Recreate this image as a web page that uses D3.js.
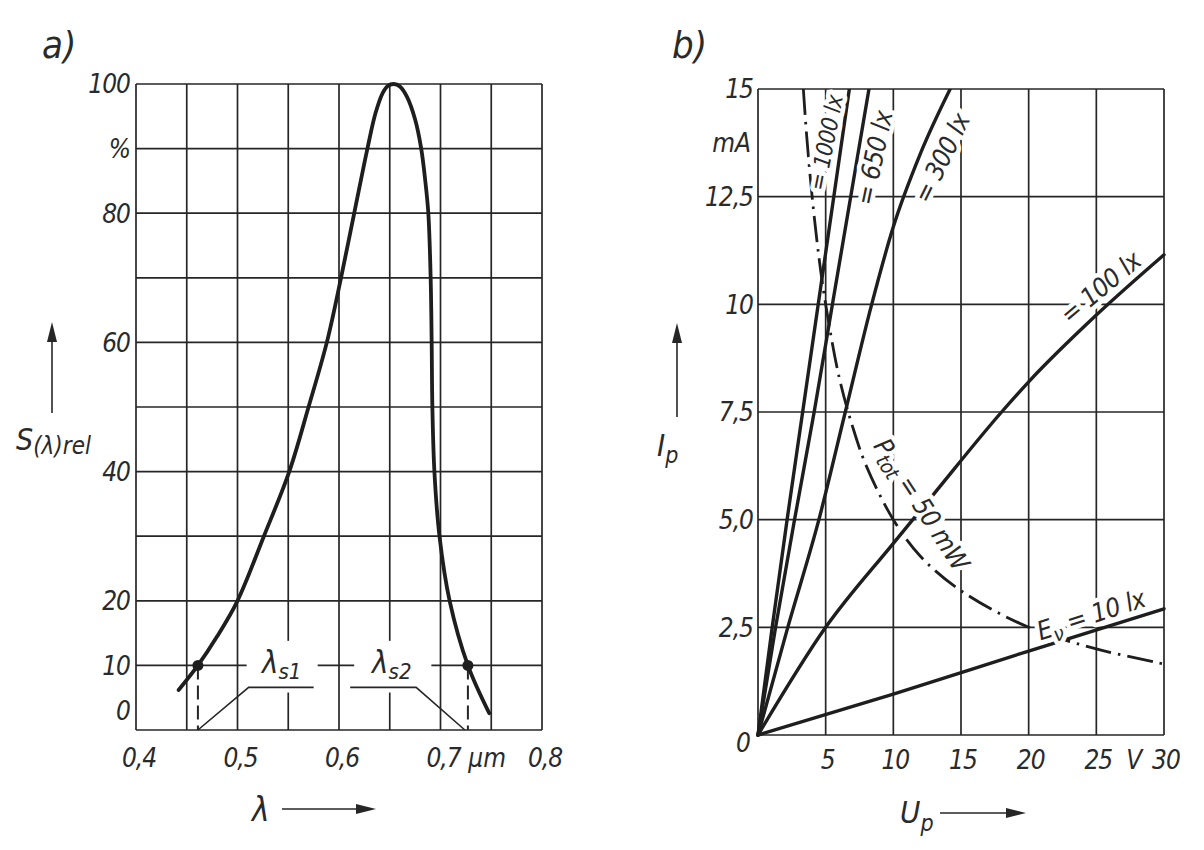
<!DOCTYPE html>
<html>
<head>
<meta charset="utf-8">
<script src="https://cdn.jsdelivr.net/npm/d3@7"></script>
<style>
  body { margin: 0; background: #ffffff; }
  svg { display: block; }
  text { font-family: "DejaVu Sans Condensed", "DejaVu Sans", sans-serif; font-style: oblique; fill: #2a2a2a; }
</style>
</head>
<body>
<svg id="chart" width="1204" height="850"></svg>
<script>
// ---------------- DATA: panel a) relative spectral sensitivity ----------------
const wavelength = [0.442, 0.461, 0.480, 0.500, 0.526, 0.551, 0.570, 0.588, 0.602, 0.615, 0.628, 0.636, 0.643, 0.648, 0.654,
                    0.660, 0.667, 0.675, 0.681, 0.685, 0.688, 0.6903, 0.6913, 0.692, 0.694, 0.699, 0.709, 0.727, 0.748];
const sRel       = [6.2, 10, 14.5, 20, 30, 40, 50, 60, 70, 80, 90, 95.5, 98.6, 99.7, 100,
                    99.6, 98, 94.5, 90, 85, 80, 70, 60, 50, 40, 30, 20, 10, 2.6];
const lambdaGrid = [0.40, 0.45, 0.50, 0.55, 0.60, 0.65, 0.70, 0.75, 0.80];
const lambdaTicks = [0.4, 0.5, 0.6, 0.7, 0.8];
const lambdaTickLabels = ["0,4", "0,5", "0,6", "0,7", "0,8"];
const sGrid = [0, 10, 20, 30, 40, 50, 60, 70, 80, 90, 100];
const sTicks = [100, 90, 80, 60, 40, 20, 10, 0];
const sTickLabels = ["100", "%", "80", "60", "40", "20", "10", "0"];
const lambdaS = [0.461, 0.727];          // λs1, λs2 (at 10 %)
const lambdaSLevel = 10;
const leader1Lambda = [0.461, 0.511, 0.575];
const leader1S      = [0, 6.6, 6.6];
const leader2Lambda = [0.611, 0.676, 0.724];
const leader2S      = [6.6, 6.6, 0];

// ---------------- DATA: panel b) photo current vs voltage ----------------
const uGrid = [0, 5, 10, 15, 20, 25, 30];
const uTicks = [5, 10, 15, 20, 25, 30];
const uTickLabels = ["5", "10", "15", "20", "25", "30"];
const iGrid = [0, 2.5, 5, 7.5, 10, 12.5, 15];
const iTicks = [15, 12.5, 10, 7.5, 5, 2.5];
const iTickLabels = ["15", "12,5", "10", "7,5", "5,0", "2,5"];

const u1000 = [0, 1.05, 2.15, 3.3, 4.45, 5.6, 6.75];
const i1000 = [0, 2.5, 5, 7.5, 10, 12.5, 15];
const u650  = [0, 1.3, 2.7, 4.15, 5.5, 6.85, 8.2];
const i650  = [0, 2.5, 5, 7.5, 10, 12.5, 15];
const u300  = [0, 2.2, 4.5, 6.45, 8.4, 10, 12, 14.2];
const i300  = [0, 2.5, 5, 7.5, 10, 11.8, 13.5, 15];
const u100  = [0, 5, 10, 13, 18, 20, 25, 30];
const i100  = [0, 2.5, 4.45, 5.6, 7.5, 8.2, 9.75, 11.15];
const u10   = [0, 10, 20, 30];
const i10   = [0, 0.95, 1.95, 2.93];
const uPtot = [3.35, 3.6, 4.0, 4.5, 5.0, 6.0, 7.0, 8.0, 10, 12, 15, 20, 25, 30];
const iPtot = [15, 13.9, 12.5, 11.1, 10, 8.3, 7.15, 6.25, 5.0, 4.15, 3.35, 2.5, 2.0, 1.65];

// ---------------- LAYOUT ----------------
const ink = "#262626";
const svg = d3.select("#chart");

const xL = d3.scaleLinear().domain([0.4, 0.8]).range([136, 542]);
const yL = d3.scaleLinear().domain([0, 100]).range([730, 84]);
const xR = d3.scaleLinear().domain([0, 30]).range([758, 1164]);
const yR = d3.scaleLinear().domain([0, 15]).range([735, 89]);

function arrow(g, x1, y1, x2, y2) {
  const a = Math.atan2(y2 - y1, x2 - x1), L = 20, W = 5;
  const bx = x2 - L * Math.cos(a), by = y2 - L * Math.sin(a);
  g.append("line").attr("x1", x1).attr("y1", y1).attr("x2", bx).attr("y2", by)
    .attr("stroke", ink).attr("stroke-width", 1.6);
  g.append("path").attr("d",
    `M${x2},${y2} L${bx - W * Math.sin(a)},${by + W * Math.cos(a)} L${bx + W * Math.sin(a)},${by - W * Math.cos(a)} Z`)
    .attr("fill", ink);
}

// ================= PANEL a) =================
const gA = svg.append("g");
gA.append("text").attr("x", 42).attr("y", 58).attr("font-size", 38).text("a)");

gA.selectAll(".vg").data(lambdaGrid).join("line")
  .attr("x1", d => xL(d)).attr("x2", d => xL(d)).attr("y1", yL(0)).attr("y2", yL(100))
  .attr("stroke", ink).attr("stroke-width", 1.7);
gA.selectAll(".hg").data(sGrid).join("line")
  .attr("x1", xL(0.4)).attr("x2", xL(0.8)).attr("y1", d => yL(d)).attr("y2", d => yL(d))
  .attr("stroke", ink).attr("stroke-width", 1.7);

const boxes = [[0.509, 0.579], [0.615, 0.691]];
gA.selectAll(".bx").data(boxes).join("rect")
  .attr("x", d => xL(d[0])).attr("width", d => xL(d[1]) - xL(d[0]))
  .attr("y", yL(13.8)).attr("height", yL(5.8) - yL(13.8)).attr("fill", "#fff");

gA.selectAll(".yt").data(sTicks).join("text")
  .attr("x", 130).attr("y", d => d === 0 ? yL(d) - 19 : yL(d))
  .attr("dy", "0.36em").attr("text-anchor", "end").attr("font-size", 26).attr("letter-spacing", -1)
  .text((d, i) => sTickLabels[i]);

gA.selectAll(".xt").data(lambdaTicks).join("text")
  .attr("x", d => xL(d) + 3).attr("y", 758).attr("dy", "0.36em")
  .attr("text-anchor", "middle").attr("font-size", 26).attr("letter-spacing", -1)
  .text((d, i) => lambdaTickLabels[i]);
gA.append("text").attr("x", xL(0.746)).attr("y", 758).attr("dy", "0.36em")
  .attr("text-anchor", "middle").attr("font-size", 26).text("µm");

gA.selectAll(".ds").data(lambdaS).join("line")
  .attr("x1", d => xL(d)).attr("x2", d => xL(d)).attr("y1", yL(lambdaSLevel)).attr("y2", yL(0))
  .attr("stroke", ink).attr("stroke-width", 2).attr("stroke-dasharray", "14,6");

const leaderLine = d3.line().x(d => xL(d[0])).y(d => yL(d[1]));
[[leader1Lambda, leader1S], [leader2Lambda, leader2S]].forEach(([lx, ly]) => {
  gA.append("path").attr("d", leaderLine(d3.zip(lx, ly)))
    .attr("fill", "none").attr("stroke", ink).attr("stroke-width", 1.6);
});

[["s1", 0.5435], ["s2", 0.652]].forEach(([sub, lam]) => {
  const t = gA.append("text").attr("x", xL(lam)).attr("y", yL(10) + 8)
    .attr("text-anchor", "middle").attr("font-size", 31);
  t.append("tspan").text("λ");
  t.append("tspan").attr("font-size", 22).attr("dy", 6).text(sub);
});

const sLine = d3.line().x(d => xL(d[0])).y(d => yL(d[1])).curve(d3.curveCatmullRom.alpha(0.5));
gA.append("path").attr("d", sLine(d3.zip(wavelength, sRel)))
  .attr("fill", "none").attr("stroke", "#1e1e1e").attr("stroke-width", 3.8)
  .attr("stroke-linecap", "round").attr("stroke-linejoin", "round");
gA.selectAll(".dot").data(lambdaS).join("circle")
  .attr("cx", d => xL(d)).attr("cy", yL(lambdaSLevel)).attr("r", 5.5).attr("fill", "#1e1e1e");

arrow(gA, 52, 413, 52, 322);
const sLab = gA.append("text").attr("x", 16).attr("y", 450).attr("font-size", 30);
sLab.append("tspan").text("S");
sLab.append("tspan").attr("font-size", 24).attr("dy", 4).text("(λ)rel");
gA.append("text").attr("x", 252).attr("y", 821).attr("font-size", 33).text("λ");
arrow(gA, 282, 809, 376, 809);

// ================= PANEL b) =================
const gB = svg.append("g");
gB.append("text").attr("x", 672).attr("y", 58).attr("font-size", 38).text("b)");

gB.selectAll(".vg").data(uGrid).join("line")
  .attr("x1", d => xR(d)).attr("x2", d => xR(d)).attr("y1", yR(0)).attr("y2", yR(15))
  .attr("stroke", ink).attr("stroke-width", 1.7);
gB.selectAll(".hg").data(iGrid).join("line")
  .attr("x1", xR(0)).attr("x2", xR(30)).attr("y1", d => yR(d)).attr("y2", d => yR(d))
  .attr("stroke", ink).attr("stroke-width", 1.7);

gB.selectAll(".yt").data(iTicks).join("text")
  .attr("x", 753).attr("y", d => yR(d)).attr("dy", "0.36em")
  .attr("text-anchor", "end").attr("font-size", 26).attr("letter-spacing", -1)
  .text((d, i) => iTickLabels[i]);
gB.append("text").attr("x", 751).attr("y", yR(0) + 8).attr("dy", "0.36em")
  .attr("text-anchor", "end").attr("font-size", 26).text("0");
gB.append("text").attr("x", 751).attr("y", yR(13.75)).attr("dy", "0.36em")
  .attr("text-anchor", "end").attr("font-size", 26).text("mA");

gB.selectAll(".xt").data(uTicks).join("text")
  .attr("x", d => xR(d) + 2).attr("y", 760).attr("dy", "0.36em")
  .attr("text-anchor", "middle").attr("font-size", 26).attr("letter-spacing", -1)
  .text((d, i) => uTickLabels[i]);
gB.append("text").attr("x", xR(27.8)).attr("y", 760).attr("dy", "0.36em")
  .attr("text-anchor", "middle").attr("font-size", 26).text("V");

svg.append("defs").append("clipPath").attr("id", "clipR").append("rect")
  .attr("x", xR(0) - 3).attr("y", yR(15)).attr("width", xR(30) - xR(0) + 6).attr("height", yR(0) - yR(15) + 3);
const gCurves = gB.append("g").attr("clip-path", "url(#clipR)");
const rLine = d3.line().x(d => xR(d[0])).y(d => yR(d[1])).curve(d3.curveMonotoneX);
[[u1000, i1000], [u650, i650], [u300, i300], [u100, i100], [u10, i10]].forEach(([u, i]) => {
  gCurves.append("path").attr("d", rLine(d3.zip(u, i)))
    .attr("fill", "none").attr("stroke", "#1e1e1e").attr("stroke-width", 3.4).attr("stroke-linecap", "round");
});
const pLine = d3.line().x(d => xR(d[0])).y(d => yR(d[1])).curve(d3.curveCatmullRom.alpha(0.5));
gCurves.append("path").attr("d", pLine(d3.zip(uPtot, iPtot)))
  .attr("fill", "none").attr("stroke", "#1e1e1e").attr("stroke-width", 2.8)
  .attr("stroke-dasharray", "26,7,2.5,7");

const curveLabels = [
  { parts: [["= 1000 lx", 0]], u: 5.0, i: 13.75, rot: -79, size: 23 },
  { parts: [["= 650 lx", 0]], u: 8.55, i: 13.4, rot: -78, size: 26 },
  { parts: [["= 300 lx", 0]], u: 13.55, i: 13.4, rot: -64, size: 26 },
  { parts: [["= 100 lx", 0]], u: 25.3, i: 10.4, rot: -40, size: 26 },
  { parts: [["E", 0], ["ν", 1], [" = 10 lx", -1]], u: 24.6, i: 2.8, rot: -18, size: 26 },
  { parts: [["P", 0], ["tot", 1], [" = 50 mW", -1]], u: 12.1, i: 5.36, rot: 57, size: 26 }
];
function drawLabel(g, lab, halo) {
  const t = g.append("text")
    .attr("transform", `translate(${xR(lab.u)},${yR(lab.i)}) rotate(${lab.rot})`)
    .attr("text-anchor", "middle").attr("dy", "0.36em").attr("font-size", lab.size).attr("letter-spacing", -0.5);
  if (halo) t.attr("stroke", "#fff").attr("stroke-width", 9).attr("stroke-linejoin", "round").style("fill", "#fff");
  lab.parts.forEach(([s, sub]) => {
    const ts = t.append("tspan").text(s);
    if (sub === 1) ts.attr("font-size", lab.size * 0.78).attr("dy", 6);
    if (sub === -1) ts.attr("dy", -6);
  });
}
curveLabels.forEach(l => drawLabel(gB, l, true));
curveLabels.forEach(l => drawLabel(gB, l, false));

arrow(gB, 677, 417, 677, 323);
const iLab = gB.append("text").attr("x", 657).attr("y", 456).attr("font-size", 31);
iLab.append("tspan").text("I");
iLab.append("tspan").attr("font-size", 23).attr("dy", 7).text("p");
const uLab = gB.append("text").attr("x", 900).attr("y", 823).attr("font-size", 31);
uLab.append("tspan").text("U");
uLab.append("tspan").attr("font-size", 23).attr("dy", 8).text("p");
arrow(gB, 940, 813, 1026, 813);
</script>
</body>
</html>
